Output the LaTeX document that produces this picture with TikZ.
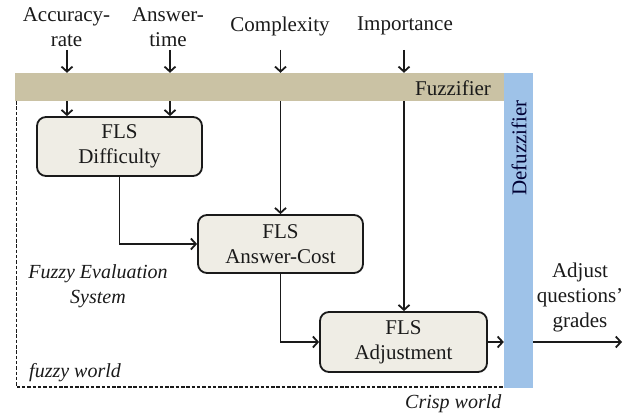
\documentclass[tikz,border=0pt]{standalone}
\usepackage{fontspec}
\setmainfont{Liberation Serif}
\usetikzlibrary{arrows.meta}
\definecolor{fuzz}{HTML}{CAC2A4}
\definecolor{defuzz}{HTML}{9EC2E8}
\definecolor{boxfill}{HTML}{EFEDE5}
\definecolor{ink}{HTML}{1A1A1A}
\begin{document}
\begin{tikzpicture}[x=1pt,y=-1pt,
  txt/.style={font=\fontsize{21}{25}\selectfont, align=center, text=ink, inner sep=0pt},
  itxt/.style={font=\fontsize{20}{25}\selectfont\itshape, align=center, text=ink, inner sep=0pt},
  flsbox/.style={txt, draw=ink, line width=1.8pt, rounded corners=9pt, fill=boxfill},
  band/.style={draw=none, inner sep=0pt},
  conn/.style={draw=ink, line width=1.8pt, -{Straight Barb[length=5pt,width=11pt,line width=1.8pt]}},
]
\useasboundingbox (0,0) rectangle (634,417);

% bands
\node[band, fill=fuzz, minimum width=489pt, minimum height=28pt] (fz) at (259.5,87) {};
\node[band, fill=defuzz, minimum width=29pt, minimum height=315pt] (dfz) at (518.5,230.5) {};
\node[txt] (fztxt) at (453,88) {Fuzzifier};
\node[txt, text=black!80!blue, rotate=90] (dfztxt) at (519,148) {Defuzzifier};

% dashed fuzzy world border
\draw[draw=ink, line width=1.4pt, dash pattern=on 3.5pt off 1.8pt] (fz.south west) ++(1.5,0) coordinate (dtl) -- (dtl |- 387,387) coordinate (dbl) -- (dbl -| dfz.west);

% input labels
\node[txt] (acc) at (66.5,27) {Accuracy-\\rate};
\node[txt] (ans) at (168,27) {Answer-\\time};
\node[txt] (cpx) at (280,26) {Complexity};
\node[txt] (imp) at (405,26) {Importance};

\coordinate (accs) at (67,50);
\coordinate (anss) at (170,50);
\coordinate (cpxs) at (280.5,50);
\coordinate (imps) at (404,50);

% FLS boxes
\node[flsbox, minimum width=165pt, minimum height=59pt] (diff) at (119.5,146.5) {FLS\\Difficulty};
\node[flsbox, minimum width=165pt, minimum height=58pt] (cost) at (280.5,244) {FLS\\Answer-Cost};
\node[flsbox, minimum width=167pt, minimum height=60pt] (adj) at (403.5,342) {FLS\\Adjustment};

% inputs to fuzzifier
\draw[conn] (accs) -- (accs |- fz.north);
\draw[conn] (anss) -- (anss |- fz.north);
\draw[conn] (cpxs) -- (cpxs |- fz.north);
\draw[conn] (imps) -- (imps |- fz.north);

% fuzzifier to boxes
\draw[conn] (accs |- fz.south) -- (accs |- diff.north);
\draw[conn] (anss |- fz.south) -- (anss |- diff.north);
\draw[conn] (cpxs |- fz.south) -- (cost.north);
\draw[conn] (imps |- fz.south) -- (adj.north -| imps);

% between boxes
\draw[conn] (diff.south) |- (cost.west);
\draw[conn] (cost.south) |- (adj.west);
\draw[conn] (adj.east) -- (adj.east -| dfz.west);

% output
\coordinate (out) at (622,342);
\draw[conn] (adj.east -| dfz.east) -- (out);
\node[txt] (outlbl) at (580,297) {Adjust\\questions’\\grades};

% italic labels
\node[itxt] (fes) at (98,286) {Fuzzy Evaluation\\System};
\node[itxt, anchor=west] (fw) at (29,373) {fuzzy world};
\node[itxt, anchor=west] (cw) at (405,404) {Crisp world};
\end{tikzpicture}
\end{document}
